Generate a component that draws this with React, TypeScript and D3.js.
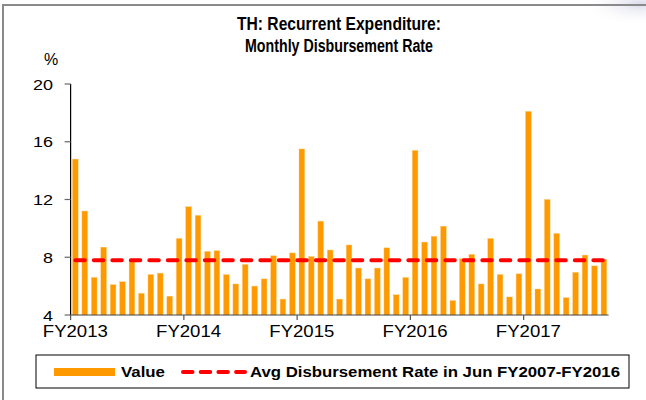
import React from "react";
import * as d3 from "d3";

const months: string[] = [
  "Oct-12","Nov-12","Dec-12","Jan-13","Feb-13","Mar-13","Apr-13","May-13","Jun-13","Jul-13","Aug-13","Sep-13",
  "Oct-13","Nov-13","Dec-13","Jan-14","Feb-14","Mar-14","Apr-14","May-14","Jun-14","Jul-14","Aug-14","Sep-14",
  "Oct-14","Nov-14","Dec-14","Jan-15","Feb-15","Mar-15","Apr-15","May-15","Jun-15","Jul-15","Aug-15","Sep-15",
  "Oct-15","Nov-15","Dec-15","Jan-16","Feb-16","Mar-16","Apr-16","May-16","Jun-16","Jul-16","Aug-16","Sep-16",
  "Oct-16","Nov-16","Dec-16","Jan-17","Feb-17","Mar-17","Apr-17","May-17","Jun-17",
];

const values: number[] = [
  14.8, 11.2, 6.6, 8.7, 6.1, 6.3, 7.75, 5.5, 6.8, 6.9, 5.3, 9.3,
  11.5, 10.9, 8.4, 8.45, 6.8, 6.15, 7.5, 6.0, 6.5, 8.1, 5.1, 8.3,
  15.5, 8.05, 10.5, 8.5, 5.1, 8.85, 7.25, 6.5, 7.25, 8.65, 5.4, 6.6,
  15.4, 9.05, 9.45, 10.15, 5.0, 7.9, 8.2, 6.15, 9.3, 6.8, 5.25, 6.85,
  18.1, 5.8, 12.0, 9.65, 5.2, 6.95, 8.15, 7.4, 7.85,
];

const avgRate = 7.8;

const yearLabels: string[] = ["FY2013", "FY2014", "FY2015", "FY2016", "FY2017"];
const yearStartMonths: string[] = ["Oct-12", "Oct-13", "Oct-14", "Oct-15", "Oct-16"];
const yTicks: number[] = [4, 8, 12, 16, 20];

const titleLines: string[] = ["TH: Recurrent Expenditure:", "Monthly Disbursement Rate"];
const legendValue = "Value";
const legendAvg = "Avg Disbursement Rate in Jun FY2007-FY2016";

const ORANGE = "#FF9900";
const RED = "#FF0000";
const FONT = "'Liberation Sans', Arial, sans-serif";

export default function App() {
  const W = 646;
  const H = 400;
  const x = d3.scaleBand<string>().domain(months).range([70.6, 608.6]).paddingInner(0.4).paddingOuter(0.2);
  const step = x.step();
  const y = d3.scaleLinear().domain([4, 20]).range([315, 84]);

  const firstC = (x(months[0]) as number) + x.bandwidth() / 2;
  const lastC = (x(months[months.length - 1]) as number) + x.bandwidth() / 2;
  const avgLine = d3.line<number>()((
    [[firstC, y(avgRate)], [lastC, y(avgRate)]] as any
  ));

  const x0 = 70.6;
  const x1 = 608.6;

  return (
    <svg width={W} height={H} style={{ position: "absolute", left: 0, top: 0, background: "#fff" }} fontFamily={FONT}>
      <defs>
        <radialGradient id="blob" cx="0.5" cy="0.5" r="0.5">
          <stop offset="0%" stopColor="#dcdceb" />
          <stop offset="100%" stopColor="#ffffff" stopOpacity="0" />
        </radialGradient>
      </defs>
      <rect x={0} y={0} width={W} height={H} fill="#fff" />
      <ellipse cx={640} cy={4} rx={60} ry={22} fill="url(#blob)" />
      {/* frame */}
      <rect x={3} y={5} width={760} height={500} fill="none" stroke="#8a8a8a" strokeWidth={2} />

      {/* title */}
      {titleLines.map((t, i) => (
        <text key={t} x={339} y={30 + i * 22} textAnchor="middle" fontSize={18} fontWeight="bold"
          textLength={i === 0 ? 204 : 188} lengthAdjust="spacingAndGlyphs" fill="#000">{t}</text>
      ))}
      <text x={51} y={65} textAnchor="middle" fontSize={16} fill="#000">%</text>

      {/* bars */}
      {values.map((v, i) => (
        <rect key={months[i]} x={x(months[i]) as number} y={y(v)} width={x.bandwidth()} height={y(4) - y(v)}
          fill={ORANGE} stroke="#FFC870" strokeWidth={0.4} />
      ))}

      {/* y axis */}
      <line x1={x0} x2={x0} y1={y(20)} y2={y(4)} stroke="#000" strokeWidth={1.2} />
      {yTicks.map((t) => (
        <g key={t}>
          <line x1={x0 - 6} x2={x0} y1={y(t)} y2={y(t)} stroke="#666" strokeWidth={1.2} />
          <text x={53} y={y(t) + 5.5} textAnchor="end" fontSize={15.5} fill="#000"
            textLength={String(t).length * 10} lengthAdjust="spacingAndGlyphs">{t}</text>
        </g>
      ))}

      {/* x axis */}
      <line x1={x0} x2={x1} y1={y(4)} y2={y(4)} stroke="#444" strokeWidth={1.2} />
      {yearStartMonths.map((m, i) => {
        const bx = (x(m) as number) - (step - x.bandwidth()) / 2;
        const cx = (x(m) as number) + x.bandwidth() / 2;
        return (
          <g key={m}>
            <line x1={bx} x2={bx} y1={y(4)} y2={y(4) + 5} stroke="#555" strokeWidth={1.2} />
            <text x={cx} y={337} textAnchor="middle" fontSize={16} fill="#000"
              textLength={65} lengthAdjust="spacingAndGlyphs">{yearLabels[i]}</text>
          </g>
        );
      })}

      {/* avg line */}
      <path d={avgLine || ""} stroke={RED} strokeWidth={4} strokeDasharray="9.5 9" strokeLinecap="round" fill="none" />

      {/* legend */}
      <rect x={36} y={355} width={593} height={33} fill="#fff" stroke="#000" strokeWidth={1} />
      <rect x={54} y={368} width={61} height={8} fill={ORANGE} />
      <text x={121} y={377} fontSize={15} fontWeight="bold" fill="#000" textLength={44} lengthAdjust="spacingAndGlyphs">{legendValue}</text>
      <line x1={183} x2={245} y1={372} y2={372} stroke={RED} strokeWidth={4} strokeDasharray="9.5 8.2" strokeLinecap="round" />
      <text x={250} y={377} fontSize={15} fontWeight="bold" fill="#000" textLength={370} lengthAdjust="spacingAndGlyphs">{legendAvg}</text>
    </svg>
  );
}
